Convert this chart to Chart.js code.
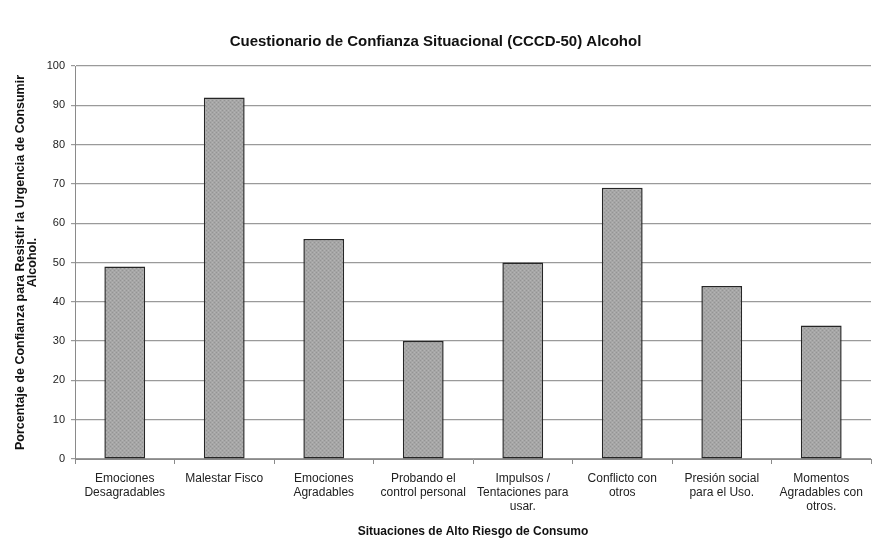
<!DOCTYPE html>
<html>
<head>
<meta charset="utf-8">
<script src="https://cdn.jsdelivr.net/npm/chart.js@4/dist/chart.umd.min.js"></script>
<style>
  html, body { margin: 0; padding: 0; background: #ffffff; }
  #wrap { width: 873px; height: 538px; }
</style>
</head>
<body>
<div id="wrap"><canvas id="c" width="873" height="538"></canvas></div>
<script>
// Situaciones de alto riesgo (categorías, en varias líneas)
const categories = [
  ["Emociones", "Desagradables"],
  ["Malestar Fisco"],
  ["Emociones", "Agradables"],
  ["Probando el", "control personal"],
  ["Impulsos /", "Tentaciones para", "usar."],
  ["Conflicto con", "otros"],
  ["Presión social", "para el Uso."],
  ["Momentos", "Agradables con", "otros."]
];

// Porcentaje de confianza por situación
const confianza = [49, 92, 56, 30, 50, 69, 44, 34];

// Marcas del eje vertical
const yTicks = [0, 10, 20, 30, 40, 50, 60, 70, 80, 90, 100];

const chartTitle = "Cuestionario de Confianza Situacional (CCCD-50) Alcohol";
const yTitle = ["Porcentaje de Confianza para Resistir la Urgencia de Consumir", "Alcohol."];
const xTitle = "Situaciones de Alto Riesgo de Consumo";

const FONT = "'Liberation Sans', Arial, sans-serif";

// Relleno gris punteado de las barras
function barPattern() {
  const p = document.createElement('canvas');
  p.width = 4; p.height = 4;
  const g = p.getContext('2d');
  g.fillStyle = '#a6a6a6';
  g.fillRect(0, 0, 4, 4);
  g.fillStyle = '#949494';
  g.fillRect(0, 0, 1, 1);
  g.fillRect(2, 2, 1, 1);
  g.fillStyle = '#b4b4b4';
  g.fillRect(2, 0, 1, 1);
  g.fillRect(0, 2, 1, 1);
  return document.getElementById('c').getContext('2d').createPattern(p, 'repeat');
}

new Chart(document.getElementById('c'), {
  type: 'bar',
  data: {
    labels: categories,
    datasets: [{
      data: confianza,
      backgroundColor: barPattern(),
      borderColor: '#262626',
      borderWidth: 1.5,
      borderSkipped: false,
      barPercentage: 0.41,
      categoryPercentage: 1.0
    }]
  },
  options: {
    responsive: false,
    animation: false,
    devicePixelRatio: 1,
    layout: { padding: { left: 0, right: 2, top: 0, bottom: 0 } },
    plugins: {
      legend: { display: false },
      tooltip: { enabled: false },
      title: {
        display: true,
        text: chartTitle,
        color: '#111111',
        font: { family: FONT, size: 15, weight: 'bold', lineHeight: 1.2 },
        padding: { top: 33, bottom: 15 }
      }
    },
    scales: {
      x: {
        offset: true,
        grid: {
          offset: true,
          drawOnChartArea: false,
          drawTicks: true,
          tickLength: 5,
          color: '#8a8a8a'
        },
        border: { display: true, color: '#8a8a8a', width: 1 },
        ticks: {
          autoSkip: false,
          maxRotation: 0,
          minRotation: 0,
          padding: 8,
          color: '#222222',
          font: { family: FONT, size: 12, lineHeight: 1.17 }
        },
        title: {
          display: true,
          text: xTitle,
          color: '#111111',
          font: { family: FONT, size: 12, weight: 'bold', lineHeight: 1.0 },
          padding: { top: 0, bottom: 0 }
        },
        afterFit: (s) => { s.height = 79; }
      },
      y: {
        min: 0,
        max: 100,
        afterBuildTicks: (s) => { s.ticks = yTicks.map(v => ({ value: v })); },
        grid: {
          color: '#9a9a9a',
          lineWidth: 1.2,
          tickLength: 4,
          drawTicks: true
        },
        border: { display: true, color: '#8a8a8a', width: 1 },
        ticks: {
          padding: 6,
          color: '#222222',
          font: { family: FONT, size: 11 }
        },
        title: {
          display: true,
          text: yTitle,
          color: '#111111',
          font: { family: FONT, size: 12.5, weight: 'bold', lineHeight: 1.0 },
          padding: { top: 14, bottom: 0 }
        },
        afterFit: (s) => { s.width = 75; }
      }
    }
  }
});
</script>
</body>
</html>
